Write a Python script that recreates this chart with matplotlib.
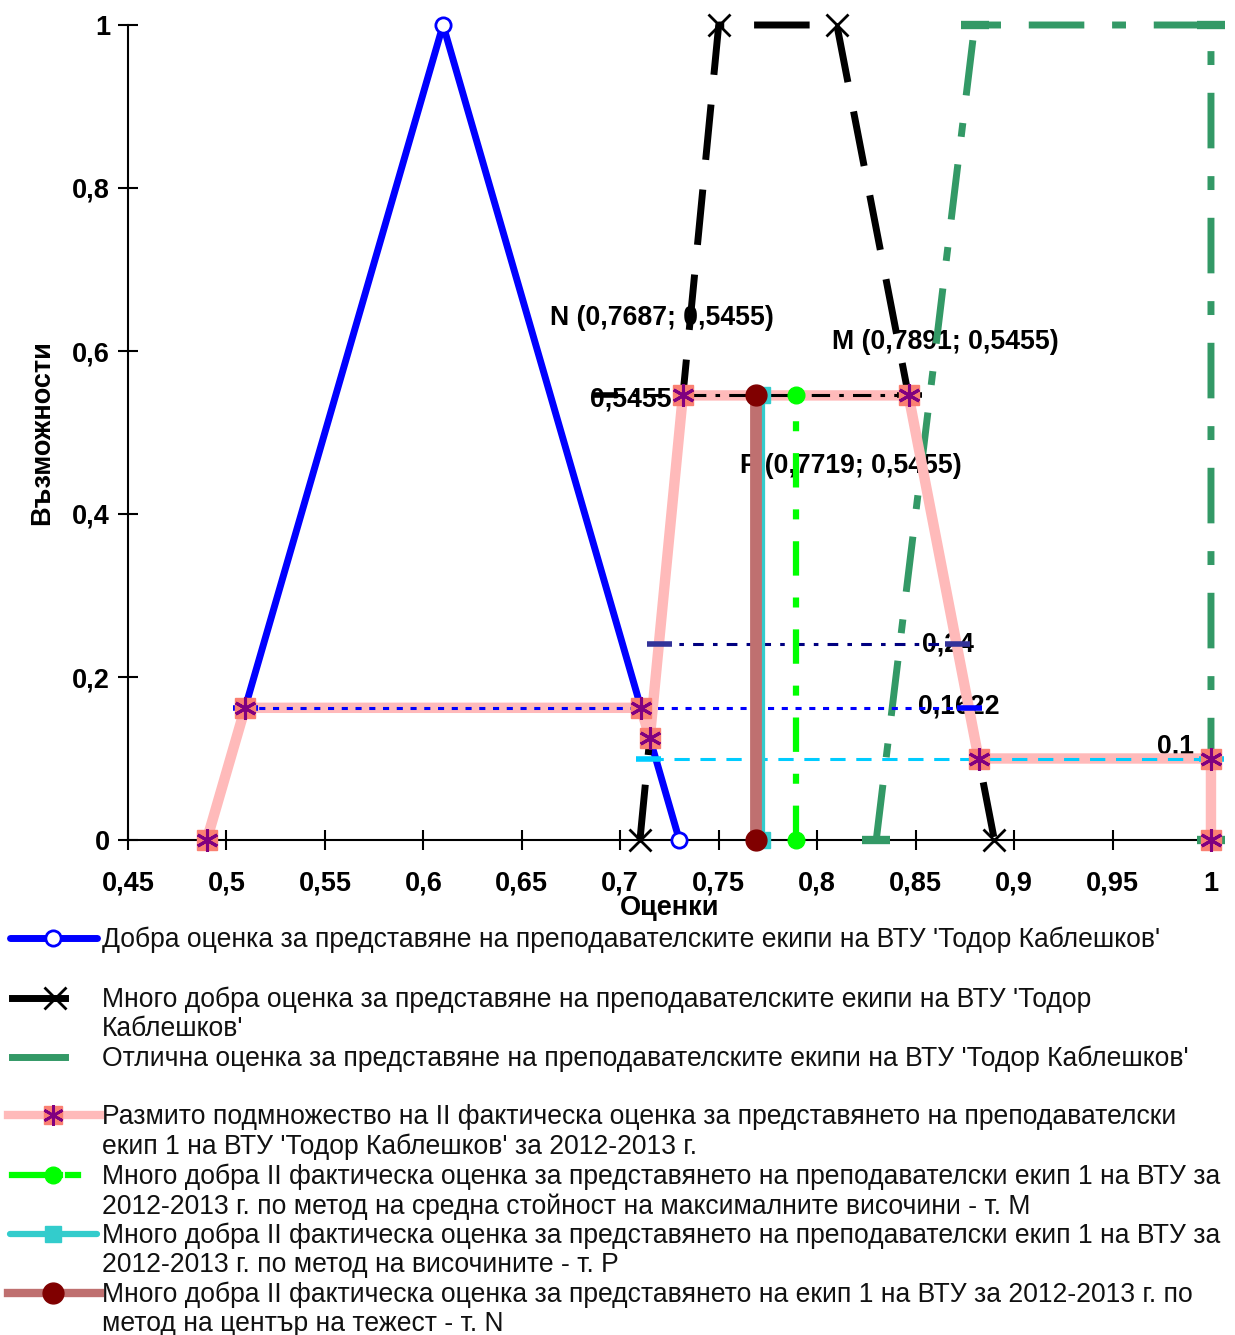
import numpy as np
import matplotlib
matplotlib.use('Agg')
import matplotlib.pyplot as plt
from matplotlib.ticker import FuncFormatter, MultipleLocator

plt.rcParams['font.family'] = ['Liberation Sans', 'DejaVu Sans']

# membership functions of the three grades
good_x = [0.49, 0.61, 0.73]
good_y = [0, 1, 0]
very_good_x = [0.71, 0.75, 0.81, 0.89]
very_good_y = [0, 1, 1, 0]
excellent_x = [0.83, 0.88, 1.0, 1.0]
excellent_y = [0, 1, 1, 0]

# fuzzy subset of the second factual grade
fuzzy_x = [0.49, 0.5095, 0.7105, 0.715, 0.7318, 0.8464, 0.882, 1.0, 1.0]
fuzzy_y = [0, 0.1622, 0.1622, 0.125, 0.5455, 0.5455, 0.1, 0.1, 0]

# alpha cuts
cut_0_24_x = [0.7196, 0.8708]
cut_0_24 = 0.24
cut_0_1622_x = [0.5095, 0.877]
cut_0_1622 = 0.1622
cut_0_1_x = [0.714, 1.0]
cut_0_1 = 0.1
cut_max_x = [0.692, 0.8464]
height = 0.5455

# defuzzified points
point_M = 0.7891
point_P = 0.7719
point_N = 0.7687

legend_texts = [
    "Добра оценка за представяне на преподавателските екипи на ВТУ 'Тодор Каблешков'",
    "Много добра оценка за представяне на преподавателските екипи на ВТУ 'Тодор\nКаблешков'",
    "Отлична оценка за представяне на преподавателските екипи на ВТУ 'Тодор Каблешков'",
    "Размито подмножество на II фактическа оценка за представянето на преподавателски\nекип 1 на ВТУ 'Тодор Каблешков' за 2012-2013 г.",
    "Много добра II фактическа оценка за представянето на преподавателски екип 1 на ВТУ за\n2012-2013 г. по метод на средна стойност на максималните височини - т. M",
    "Много добра II фактическа оценка за представянето на преподавателски екип 1 на ВТУ за\n2012-2013 г. по метод на височините - т. P",
    "Много добра II фактическа оценка за представянето на екип 1 на ВТУ за 2012-2013 г. по\nметод на център на тежест - т. N",
]

W, H = 1235, 1335
fig = plt.figure(figsize=(W / 100, H / 100), dpi=100)
ax = fig.add_axes([128 / W, (H - 840) / H, (1222 - 128) / W, (840 - 25) / H])

# grades
ax.plot(good_x, good_y, '-', color='#0000ff', lw=5, marker='o', ms=11,
        mfc='white', mec='#0000ff', mew=2, zorder=3, clip_on=False)
ax.plot(very_good_x, very_good_y, color='black', lw=5, dashes=(8, 4.3),
        marker='x', ms=16, mew=2, zorder=3, clip_on=False)
ax.plot(excellent_x, excellent_y, color='#339966', lw=5, dashes=(8, 4, 2, 4),
        marker='_', ms=20, mew=6, zorder=3, clip_on=False)

# fuzzy subset
ax.plot(fuzzy_x, fuzzy_y, '-', color='#ffbaba', lw=7.5, zorder=4, clip_on=False)

# cuts
ax.plot(cut_max_x, [height, height], color='black', lw=2.2, dashes=(6, 3, 1.5, 3),
        marker='_', ms=18, mew=4, zorder=5)
ax.plot(cut_0_24_x, [cut_0_24, cut_0_24], color='#000080', lw=2.2, dashes=(3.5, 3, 1.5, 3),
        marker='_', ms=18, mew=4, mec='#333399', zorder=5)
ax.plot(cut_0_1622_x, [cut_0_1622, cut_0_1622], color='#0000ff', lw=2.2, dashes=(2, 2.5),
        marker='_', ms=18, mew=4, zorder=5)
ax.plot(cut_0_1_x, [cut_0_1, cut_0_1], color='#00ccff', lw=2.2, dashes=(5, 3.5),
        marker='_', ms=18, mew=4, zorder=5, clip_on=False)

# markers of the fuzzy subset
ax.plot(fuzzy_x, fuzzy_y, 's', ms=14, mfc='#fa8072', mec='#fa8072', zorder=6, clip_on=False)
ax.plot(fuzzy_x, fuzzy_y, ls='none', marker=(6, 2, 0), ms=16, mew=2.2, mec='#800080',
        zorder=6, clip_on=False)

# defuzzified values
ax.plot([point_M, point_M], [0, height], color='#00ff00', lw=4.5, dashes=(5.5, 3.5, 1.6, 3.5),
        marker='o', ms=12, mfc='#00ff00', mec='#00ff00', zorder=7, clip_on=False)
ax.plot([point_P, point_P], [0, height], '-', color='#33cccc', lw=4.5,
        marker='s', ms=11, zorder=7, clip_on=False)
ax.plot([point_N, point_N], [0, height], '-', color='#bf7070', lw=8.5,
        marker='o', ms=15, mfc='#800000', mec='#800000', zorder=8, clip_on=False)

lab = dict(fontsize=19.2, fontweight='bold', va='center', ha='left', zorder=1)
ax.text(0.6643, 0.6405, 'N (0,7687; 0,5455)', **lab)
ax.text(0.8075, 0.611, 'M (0,7891; 0,5455)', **lab)
ax.text(0.7608, 0.4589, 'P (0,7719; 0,5455)', **lab)
ax.text(0.6846, 0.540, '0,5455', **lab)
ax.text(0.8532, 0.2393, '0,24', **lab)
ax.text(0.8512, 0.1632, '0,1622', **lab)
ax.text(0.9726, 0.1153, '0,1', **lab)

ax.set_xlim(0.45, 1.0056)
ax.set_ylim(0, 1)
ax.xaxis.set_major_locator(MultipleLocator(0.05))
ax.yaxis.set_major_locator(MultipleLocator(0.2))
comma = FuncFormatter(lambda v, p: ('%g' % round(v, 2)).replace('.', ','))
ax.xaxis.set_major_formatter(comma)
ax.yaxis.set_major_formatter(comma)
ax.tick_params(direction='inout', length=14, width=1.5, labelsize=19.5)
ax.tick_params(axis='x', pad=15)
ax.tick_params(axis='y', pad=6)
for t in ax.get_xticklabels() + ax.get_yticklabels():
    t.set_fontweight('bold')
for s in ['top', 'right']:
    ax.spines[s].set_visible(False)
for s in ['left', 'bottom']:
    ax.spines[s].set_linewidth(1.5)
    ax.spines[s].set_zorder(2)

ax.set_xlabel('Оценки', fontsize=19.5, fontweight='bold')
ax.set_ylabel('Възможности', fontsize=19.5, fontweight='bold')
ax.xaxis.label.set_va('center')
ax.yaxis.label.set_va('center')
ax.xaxis.set_label_coords((670 - 128) / 1094, (840 - 908) / 815)
ax.yaxis.set_label_coords((42 - 128) / 1094, 0.5)

# legend drawn in pixel coordinates
lg = fig.add_axes([0, 0, 1, (H - 915) / H])
lg.set_xlim(0, W)
lg.set_ylim(H, 915)
lg.axis('off')
rows = [938, 998, 1057, 1115, 1175, 1234, 1293]
lg.plot([10, 97], [rows[0]] * 2, color='#0000ff', lw=5, solid_capstyle='round')
lg.plot([53], [rows[0]], 'o', ms=11, mfc='white', mec='#0000ff', mew=2)
lg.plot([12, 65], [rows[1]] * 2, color='black', lw=5)
lg.plot([55], [rows[1]], 'x', ms=16, mew=2, color='black')
lg.plot([12, 65], [rows[2]] * 2, color='#339966', lw=5)
lg.plot([8, 100], [rows[3]] * 2, color='#ffbaba', lw=6)
lg.plot([53], [rows[3]], 's', ms=13, mfc='#fa8072', mec='#fa8072')
lg.plot([53], [rows[3]], ls='none', marker=(6, 2, 0), ms=15, mew=2, mec='#800080')
lg.plot([12, 60], [rows[4]] * 2, color='#00ff00', lw=4.5)
lg.plot([68, 78], [rows[4]] * 2, color='#00ff00', lw=4.5)
lg.plot([53], [rows[4]], 'o', ms=12, color='#00ff00')
lg.plot([10, 97], [rows[5]] * 2, color='#33cccc', lw=4.5, solid_capstyle='round')
lg.plot([53], [rows[5]], 's', ms=11, color='#33cccc')
lg.plot([8, 100], [rows[6]] * 2, color='#bf7070', lw=6)
lg.plot([53], [rows[6]], 'o', ms=15, color='#800000')
for y, txt in zip(rows, legend_texts):
    lg.text(102, y - 11, txt, fontsize=19.1, va='top', ha='left', color='#111111',
            linespacing=1.15)

fig.savefig('out.png', dpi=100)
